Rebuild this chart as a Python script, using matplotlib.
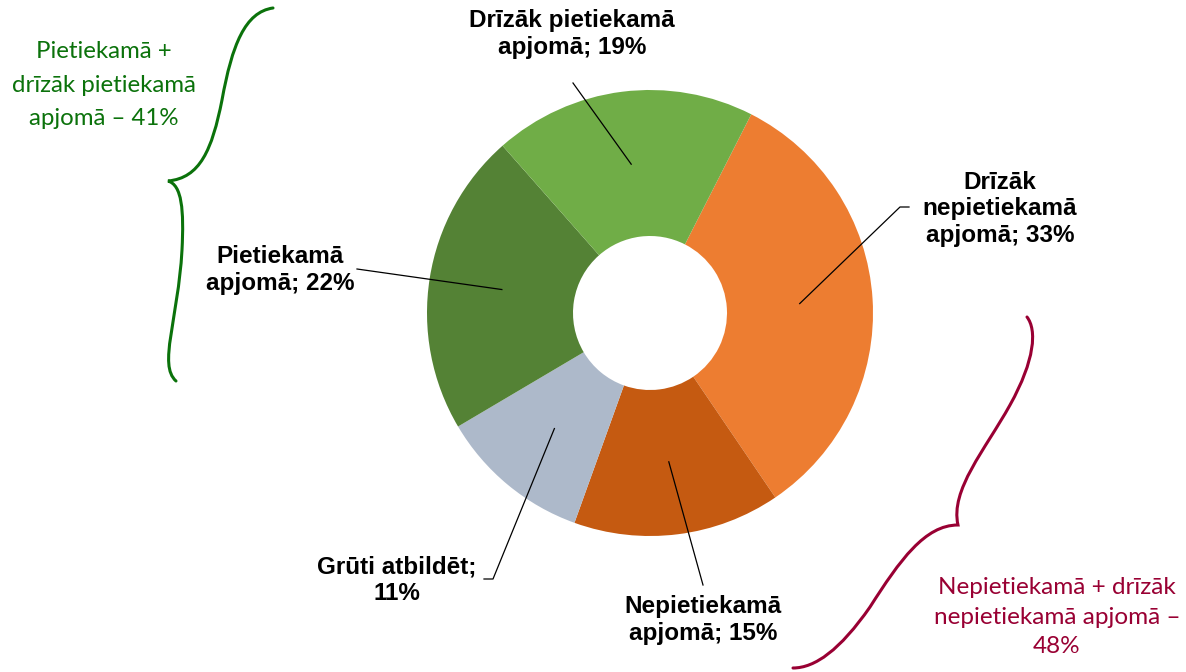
import numpy as np
import matplotlib.pyplot as plt
from matplotlib.path import Path
from matplotlib.patches import PathPatch

# Data (clockwise from the start angle)
labels = ['Drīzāk\nnepietiekamā\napjomā; 33%', 'Nepietiekamā\napjomā; 15%',
          'Grūti atbildēt;\n11%', 'Pietiekamā\napjomā; 22%', 'Drīzāk pietiekamā\napjomā; 19%']
values = [33, 15, 11, 22, 19]
colors = ['#ED7D31', '#C55A11', '#ADB9CA', '#548235', '#70AD47']

group_pos = 'Pietiekamā +\ndrīzāk pietiekamā\napjomā – 41%'
group_neg = 'Nepietiekamā + drīzāk\nnepietiekamā apjomā –\n48%'

W, H = 1186, 672
fig = plt.figure(figsize=(W / 100, H / 100), dpi=100)
ax = fig.add_axes([0, 0, 1, 1])


def px(x, y):
    # pixel position (y from top) -> data coords
    return (x, H - y)


CX, CY = px(650, 313)
R_OUT, R_IN = 223, 77
wedges, _ = ax.pie(values, colors=colors, startangle=63, counterclock=False,
                   center=(CX, CY), radius=R_OUT,
                   wedgeprops=dict(width=R_OUT - R_IN, linewidth=0))
ax.set_xlim(0, W)
ax.set_ylim(0, H)
ax.set_aspect('equal')
ax.axis('off')

# label text positions and leader-line elbows (pixels)
text_pos = [(1000, 209), (703, 620), (397, 580), (280, 270), (572, 34)]
elbows = [[(900, 207), (909, 207)], [(703, 585)], [(493, 579), (484, 579)],
          [(357, 269)], [(573, 83)]]

r_mid = (R_OUT + R_IN) / 2
for w, lab, tp, el in zip(wedges, labels, text_pos, elbows):
    mid = np.deg2rad((w.theta1 + w.theta2) / 2)
    ax_ = CX + r_mid * np.cos(mid)
    ay_ = CY + r_mid * np.sin(mid)
    pts = [(ax_, ay_)] + [px(*p) for p in el]
    xs, ys = zip(*pts)
    ax.plot(xs, ys, color='black', lw=0.9)
    ax.text(*px(*tp), lab, ha='center', va='center', multialignment='center',
            fontsize=17.5, fontweight='bold', family='Liberation Sans',
            color='black', linespacing=1.17)


def brace(segments, color):
    verts = [px(*segments[0])]
    codes = [Path.MOVETO]
    for p in segments[1:]:
        verts.append(px(*p))
        codes.append(Path.CURVE4)
    ax.add_patch(PathPatch(Path(verts, codes), facecolor='none',
                           edgecolor=color, lw=2.2, capstyle='round'))


green = '#0B720B'
red = '#990033'
brace([(273, 8), (245, 12), (232, 45), (222, 100),
       (212, 150), (200, 178), (168, 181),
       (182, 185), (184, 210), (182, 250),
       (178, 320), (158, 365), (176, 381)], green)
brace([(1027, 317), (1037, 330), (1035, 360), (1010, 405),
       (985, 450), (950, 490), (958, 525),
       (925, 525), (900, 560), (870, 607),
       (840, 650), (815, 668), (793, 668)], red)

ax.text(*px(104, 85), group_pos, ha='center', va='center', multialignment='center',
        fontsize=17.3, family='Lato', color=green, linespacing=1.75)
ax.text(*px(1057, 617), group_neg, ha='center', va='center', multialignment='center',
        fontsize=17.5, family='Lato', color=red, linespacing=1.52)

fig.savefig('out.png', dpi=100)
